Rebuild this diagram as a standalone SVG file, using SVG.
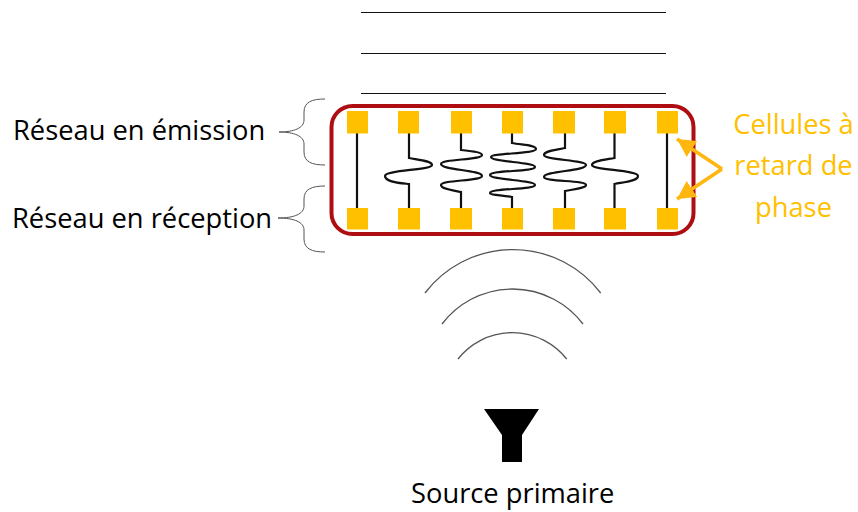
<svg xmlns="http://www.w3.org/2000/svg" width="858" height="512" viewBox="0 0 858 512">
<style>
text{font-family:"Open Sans","Noto Sans","DejaVu Sans",sans-serif;font-size:27.300px;fill:#000}
.o{fill:#FFC000;text-anchor:middle}
.cell{fill:#FFC000}
.w{fill:none;stroke:#111;stroke-width:2.200}
.b{fill:none;stroke:#555;stroke-width:1}
.l{fill:none;stroke:#111;stroke-width:1}
.a{fill:none;stroke:#555;stroke-width:1.300}
.ar{stroke:#FFB60F;stroke-width:3.500;fill:none;marker-end:url(#h)}
</style>
<defs><marker id="h" markerUnits="userSpaceOnUse" markerWidth="24" markerHeight="24" refX="18" refY="9.500" orient="auto"><path d="M0 0L18 9.500L0 19Z" fill="#FFB60F"/></marker></defs>
<rect width="858" height="512" fill="#fff"/>
<g id="lines">
<path class="l" d="M361 12.500H666M361 53.500H666M361 93.500H666"/>
</g>
<g id="panel"><rect x="331.500" y="106" width="362" height="128" rx="21" fill="none" stroke="#AE0E12" stroke-width="4"/></g>
<g id="connectors">
<path class="w" d="M357 133V208"/>
<path class="w" d="M409 133V158C420 160 432 161 432 165C432 170 385 170 385 176C385 182 400 183 409 184V208"/>
<path class="w" d="M461 133V150C470 151 482 152 482 155C482 160 441 159 441 164C441 170 482 170 482 176C482 181 441 180 441 185C441 189 452 190 461 192V208"/>
<path class="w" d="M512 133V143C522 145 536 145 536 149C536 154 491 153 491 157C491 162 535 162 535 167C535 172 490 170 490 175C490 180 535 180 535 185C535 190 490 188 490 193C490 195 502 195 512 197V208"/>
<path class="w" d="M565 133V148C555 150 544 151 544 155C544 160 586 160 586 165C586 171 544 171 544 177C544 182 586 180 586 185C586 188 575 189 565 191V208"/>
<path class="w" d="M614.500 133V158C603 160 592 161 592 165C592 170 638 170 638 176C638 181 625 182 614.500 184V208"/>
<path class="w" d="M667 133V208"/>
</g>
<g id="cells-top">
<rect class="cell" x="347" y="111" width="21" height="22.500"/><rect class="cell" x="398" y="111" width="21" height="22.500"/><rect class="cell" x="451" y="111" width="21" height="22.500"/><rect class="cell" x="502" y="111" width="21" height="22.500"/><rect class="cell" x="553" y="111" width="22" height="22.500"/><rect class="cell" x="604" y="111" width="22" height="22.500"/><rect class="cell" x="657" y="111" width="21" height="22.500"/>
</g>
<g id="cells-bottom">
<rect class="cell" x="347" y="208" width="21" height="21.500"/><rect class="cell" x="398" y="208" width="22" height="21.500"/><rect class="cell" x="450" y="208" width="22" height="21.500"/><rect class="cell" x="502" y="208" width="21" height="21.500"/><rect class="cell" x="553" y="208" width="22" height="21.500"/><rect class="cell" x="604" y="208" width="22" height="21.500"/><rect class="cell" x="657" y="208" width="21" height="21.500"/>
</g>
<g id="brace-emission"><path class="b" d="M325 99C312 99 304 102 304 112V120C304 128 294 132 279 132C294 132 304 136 304 144V152C304 162 312 165 325 165"/><text x="13" y="140">Réseau en émission</text></g>
<g id="brace-reception"><path class="b" d="M325 186C312 186 304 189 304 199V206C304 214 294 218 278 218C294 218 304 222 304 230V239C304 249 312 252 325 252"/><text x="12" y="228">Réseau en réception</text></g>
<g id="callout"><path class="ar" d="M722 169L677 139"/><path class="ar" d="M722 169L677 199"/>
<text class="o" x="793.500" y="134">Cellules à</text><text class="o" x="793.500" y="175">retard de</text><text class="o" x="793.500" y="217">phase</text></g>
<g id="waves">
<path class="a" d="M425 293A110.500 110.500 0 0 1 600.700 293"/>
<path class="a" d="M442 324A88.500 88.500 0 0 1 583 324"/>
<path class="a" d="M458 359A69.200 69.200 0 0 1 566.700 359"/>
</g>
<g id="source"><path d="M484 409H539L522 435V462H502V435Z" fill="#000"/><text x="411" y="503">Source primaire</text></g>
</svg>
